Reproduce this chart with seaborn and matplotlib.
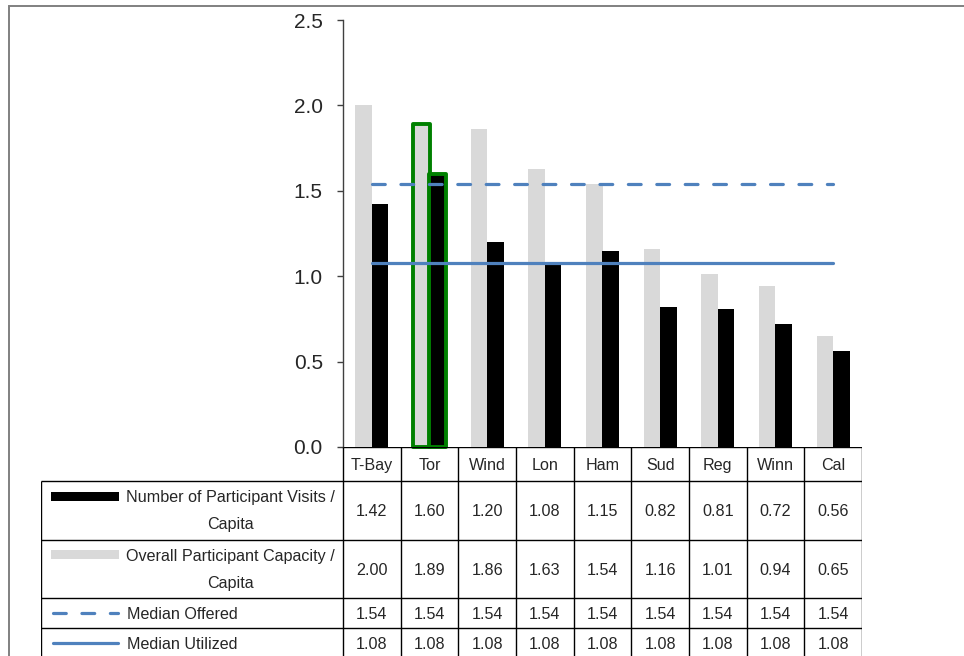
import numpy as np
import pandas as pd
import matplotlib
matplotlib.use("Agg")
import matplotlib.pyplot as plt
import seaborn as sns
from matplotlib.lines import Line2D
from matplotlib.patches import Rectangle
from matplotlib.ticker import FormatStrFormatter

# ---- data -----------------------------------------------------------------
cities = ["T-Bay", "Tor", "Wind", "Lon", "Ham", "Sud", "Reg", "Winn", "Cal"]
visits = [1.42, 1.60, 1.20, 1.08, 1.15, 0.82, 0.81, 0.72, 0.56]
capacity = [2.00, 1.89, 1.86, 1.63, 1.54, 1.16, 1.01, 0.94, 0.65]
median_offered = [1.54, 1.54, 1.54, 1.54, 1.54, 1.54, 1.54, 1.54, 1.54]
median_utilized = [1.08, 1.08, 1.08, 1.08, 1.08, 1.08, 1.08, 1.08, 1.08]
highlight = "Tor"

visits_label = "Number of Participant Visits /\nCapita"
capacity_label = "Overall Participant Capacity /\nCapita"
offered_label = "Median Offered"
utilized_label = "Median Utilized"
yticks = [0.0, 0.5, 1.0, 1.5, 2.0, 2.5]

# ---- style ----------------------------------------------------------------
sns.set_style("white")
plt.rcParams["font.family"] = ["Liberation Sans", "DejaVu Sans"]

GRAY = "#d9d9d9"
BLUE = "#4f81bd"
GREEN = "#008000"
LINE_W = 2.3
DASH = (4.0, 4.9)
TFS = 11.6
TXT_DY = 1.5  # small downward nudge for table text

W, H = 964, 656
fig = plt.figure(figsize=(W / 100, H / 100), dpi=100)


def px_rect(left, top, right, bottom):
    return [left / W, 1 - bottom / H, (right - left) / W, (bottom - top) / H]


# outer frame of the figure
fig.add_artist(Rectangle((9 / W, -0.05), 1.0, 1 - 6 / H + 0.05,
                         transform=fig.transFigure, fill=False,
                         edgecolor="#808080", lw=1.4))

# ---- bar chart ------------------------------------------------------------
ax_left, ax_right, ax_top, ax_bottom = 343, 862, 20, 447
ax = fig.add_axes(px_rect(ax_left, ax_top, ax_right, ax_bottom))

df = pd.DataFrame({
    "city": cities * 2,
    "value": capacity + visits,
    "series": [capacity_label] * len(cities) + [visits_label] * len(cities),
})
sns.barplot(data=df, x="city", y="value", hue="series",
            hue_order=[capacity_label, visits_label],
            palette=[GRAY, "black"], saturation=1, width=0.57,
            linewidth=0, legend=False, ax=ax)

hi = cities.index(highlight)
for cont in ax.containers:
    bar = cont[hi]
    bar.set_edgecolor(GREEN)
    bar.set_linewidth(2.8)
    bar.set_joinstyle("round")
    bar.set_clip_on(False)

xs = np.arange(len(cities))
ax.plot(xs, median_offered, color=BLUE, lw=LINE_W, dashes=DASH,
        dash_capstyle="round", zorder=5)
ax.plot(xs, median_utilized, color=BLUE, lw=LINE_W,
        solid_capstyle="round", zorder=5)

ax.set_xlim(-0.5, len(cities) - 0.5)
ax.set_ylim(0, 2.5)
ax.set_yticks(yticks)
ax.yaxis.set_major_formatter(FormatStrFormatter("%.1f"))
ax.tick_params(axis="y", direction="out", length=4.5, width=1,
               color="#404040", labelsize=15, pad=10, left=True)
ax.set_xticks([])
ax.set_xlabel("")
ax.set_ylabel("")
for s in ["top", "right", "bottom"]:
    ax.spines[s].set_visible(False)
ax.spines["left"].set_color("#404040")
ax.spines["left"].set_linewidth(1)

# ---- data table -----------------------------------------------------------
unit = (ax_right - ax_left) / len(cities)
tab_left, tab_bottom = 41, 662
tax = fig.add_axes(px_rect(tab_left, ax_bottom, ax_right, tab_bottom))
x0 = -0.5 - (ax_left - tab_left) / unit
tax.set_xlim(x0, len(cities) - 0.5)
tax.set_ylim(tab_bottom, ax_bottom)
tax.axis("off")


def px_x(px):
    return -0.5 + (px - ax_left) / unit


row_edges = [447, 481, 540, 598, 628, tab_bottom]
lc = dict(color="black", lw=1.0, solid_capstyle="butt")

# header top (category axis) and row separators
tax.plot([-0.5, len(cities) - 0.5], [row_edges[0]] * 2, **lc)
for y in row_edges[1:-1]:
    tax.plot([x0, len(cities) - 0.5], [y, y], **lc)
tax.plot([x0, x0], [row_edges[1], tab_bottom], **lc)
for k in range(len(cities) + 1):
    tax.plot([k - 0.5, k - 0.5], [row_edges[0], tab_bottom], **lc)

# category header
hdr_y = (row_edges[0] + row_edges[1]) / 2 + TXT_DY
for i, c in enumerate(cities):
    tax.text(i, hdr_y, c, ha="center", va="center", fontsize=TFS)

# values
rows = [visits, capacity, median_offered, median_utilized]
labels = [visits_label, capacity_label, offered_label, utilized_label]


def row_center(r):
    if r == len(rows) - 1:
        return 643
    return (row_edges[r + 1] + row_edges[r + 2]) / 2


for r, vals in enumerate(rows):
    yc = row_center(r) + TXT_DY
    for i, v in enumerate(vals):
        tax.text(i, yc, f"{v:.2f}", ha="center", va="center", fontsize=TFS)

# row labels with legend keys
key_l, key_r, txt_l, txt_c = px_x(51), px_x(119), px_x(127), px_x(230)
for r, lab in enumerate(labels):
    yc = row_center(r)
    parts = lab.split("\n")
    if len(parts) == 2:
        y1, y2 = yc - 14, yc + 13
        tax.text(txt_c, y1 + TXT_DY, parts[0], ha="center", va="center",
                 fontsize=TFS)
        tax.text(txt_c, y2 + TXT_DY, parts[1], ha="center", va="center",
                 fontsize=TFS)
        color = "black" if r == 0 else GRAY
        tax.add_patch(Rectangle((key_l, y1 - 4.5), key_r - key_l, 9,
                                facecolor=color, edgecolor="none"))
    else:
        tax.text(txt_l, yc + TXT_DY, lab, ha="left", va="center",
                 fontsize=TFS)
        pad = 1.6 / unit
        if r == 2:
            tax.add_line(Line2D([key_l + pad, px_x(120) - pad], [yc, yc],
                                color=BLUE, lw=LINE_W, dashes=DASH,
                                dash_capstyle="round"))
        else:
            tax.add_line(Line2D([key_l + pad, px_x(120) - pad], [yc, yc],
                                color=BLUE, lw=LINE_W,
                                solid_capstyle="round"))

fig.savefig("out.png", dpi=100)
